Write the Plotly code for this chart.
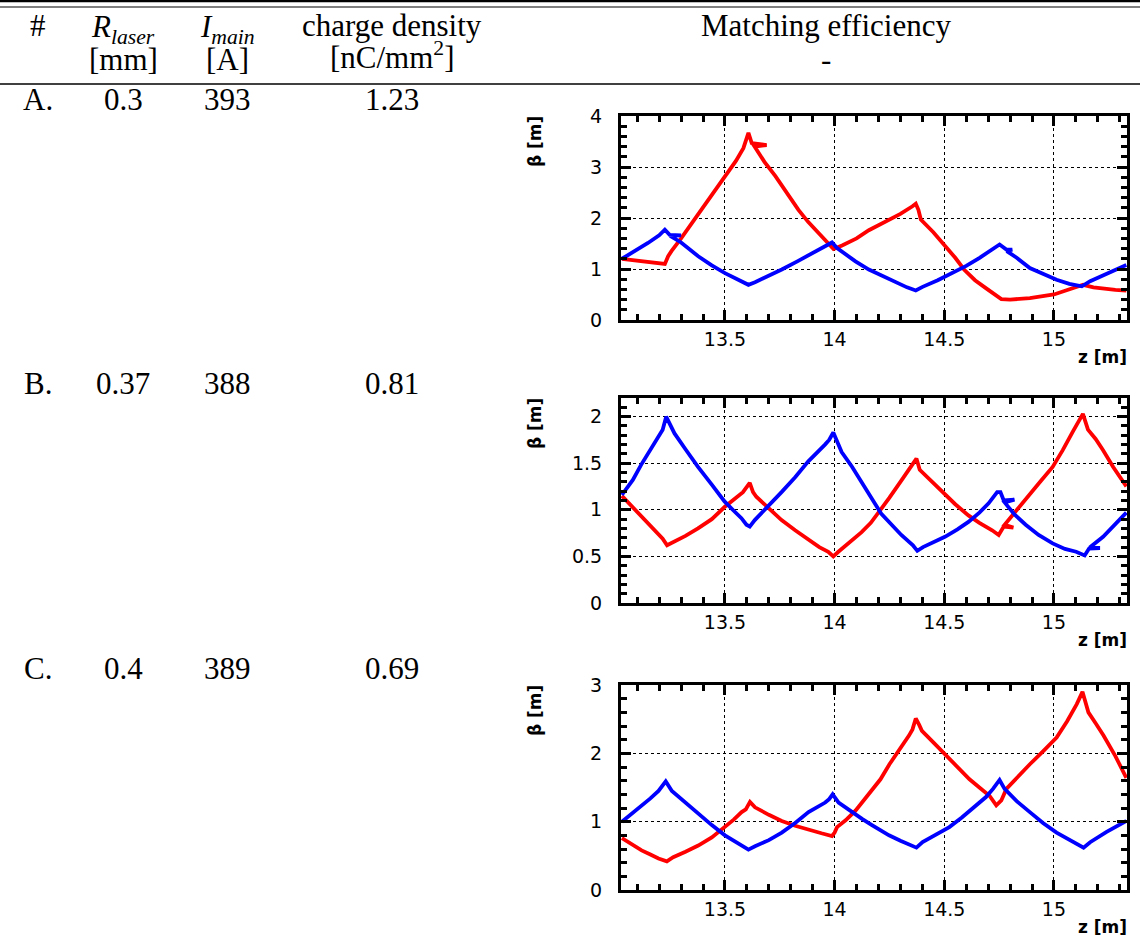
import plotly.graph_objects as go

W, H = 1140, 936

# ---------------- table contents ----------------
header_line1 = ["#", "<i>R<sub>laser</sub></i>", "<i>I<sub>main</sub></i>", "charge density", "Matching efficiency"]
header_line2 = ["", "[mm]", "[A]", "[nC/mm<sup>2</sup>]", "-"]
row_labels = ["A.", "B.", "C."]
r_laser = ["0.3", "0.37", "0.4"]
i_main = ["393", "388", "389"]
charge_density = ["1.23", "0.81", "0.69"]

# ---------------- beta functions, run A ----------------
z_a_red = [13.03, 13.10, 13.17, 13.226, 13.241, 13.256, 13.30, 13.35, 13.40, 13.45, 13.50, 13.55,
           13.584, 13.607, 13.622, 13.69, 13.635, 13.68, 13.73, 13.78, 13.835, 13.88, 13.93, 13.973,
           13.995, 14.034, 14.10, 14.156, 14.20, 14.25, 14.30, 14.355, 14.37, 14.382, 14.393, 14.45,
           14.50, 14.55, 14.59, 14.64, 14.691, 14.73, 14.76, 14.80, 14.89, 15.00, 15.09, 15.133,
           15.18, 15.225, 15.28, 15.33]
beta_a_red = [1.20, 1.16, 1.13, 1.10, 1.25, 1.35, 1.60, 1.90, 2.20, 2.50, 2.80, 3.12,
              3.37, 3.67, 3.47, 3.43, 3.40, 3.10, 2.82, 2.50, 2.16, 1.92, 1.68, 1.48,
              1.39, 1.46, 1.60, 1.76, 1.86, 1.97, 2.08, 2.23, 2.28, 2.16, 1.97, 1.72,
              1.48, 1.22, 0.99, 0.78, 0.62, 0.50, 0.41, 0.40, 0.43, 0.50, 0.63, 0.69,
              0.64, 0.61, 0.59, 0.575]
z_a_blue = [13.03, 13.09, 13.149, 13.20, 13.226, 13.248, 13.30, 13.25, 13.30, 13.378, 13.44, 13.50,
            13.56, 13.607, 13.637, 13.70, 13.759, 13.83, 13.912, 13.96, 13.988, 14.011, 14.05, 14.095,
            14.156, 14.22, 14.278, 14.33, 14.37, 14.401, 14.47, 14.538, 14.60, 14.661, 14.70, 14.737,
            14.752, 14.783, 14.81, 14.785, 14.83, 14.89, 14.95, 15.012, 15.07, 15.127, 15.165, 15.24,
            15.33]
beta_a_blue = [1.20, 1.35, 1.51, 1.66, 1.77, 1.67, 1.66, 1.65, 1.52, 1.25, 1.07, 0.92,
               0.79, 0.69, 0.74, 0.86, 0.99, 1.15, 1.35, 1.47, 1.52, 1.41, 1.29, 1.15,
               0.99, 0.86, 0.73, 0.64, 0.58, 0.65, 0.78, 0.92, 1.06, 1.22, 1.33, 1.43,
               1.48, 1.38, 1.38, 1.35, 1.22, 1.02, 0.90, 0.79, 0.71, 0.66, 0.76, 0.91,
               1.08]

# ---------------- beta functions, run B ----------------
z_b_red = [13.03, 13.08, 13.117, 13.16, 13.194, 13.216, 13.236, 13.262, 13.32, 13.377, 13.44, 13.498,
           13.54, 13.582, 13.613, 13.628, 13.643, 13.70, 13.758, 13.82, 13.88, 13.93, 13.971, 13.994,
           14.017, 14.07, 14.123, 14.165, 14.207, 14.25, 14.30, 14.334, 14.357, 14.373, 14.388, 14.44,
           14.488, 14.55, 14.61, 14.66, 14.718, 14.748, 14.771, 14.815, 14.775, 14.83, 14.887, 14.94,
           14.994, 15.04, 15.086, 15.109, 15.132, 15.155, 15.19, 15.224, 15.27, 15.33]
beta_b_red = [1.15, 1.03, 0.93, 0.83, 0.75, 0.69, 0.62, 0.65, 0.72, 0.80, 0.90, 1.03,
              1.11, 1.19, 1.29, 1.19, 1.14, 1.01, 0.89, 0.78, 0.68, 0.60, 0.55, 0.50,
              0.55, 0.65, 0.76, 0.86, 0.99, 1.13, 1.30, 1.42, 1.50, 1.55, 1.43, 1.31,
              1.19, 1.06, 0.94, 0.86, 0.78, 0.73, 0.82, 0.81, 0.84, 1.00, 1.16, 1.31,
              1.46, 1.64, 1.84, 1.93, 2.03, 1.86, 1.76, 1.64, 1.46, 1.25]
z_b_blue = [13.03, 13.08, 13.117, 13.16, 13.201, 13.216, 13.232, 13.255, 13.27, 13.32, 13.377, 13.44,
            13.498, 13.54, 13.575, 13.598, 13.613, 13.636, 13.70, 13.758, 13.82, 13.88, 13.956, 13.975,
            13.994, 14.017, 14.032, 14.08, 14.123, 14.165, 14.212, 14.26, 14.304, 14.357, 14.377, 14.403,
            14.45, 14.503, 14.56, 14.61, 14.66, 14.702, 14.741, 14.756, 14.771, 14.82, 14.775, 14.82,
            14.871, 14.93, 14.994, 15.05, 15.101, 15.140, 15.160, 15.210, 15.163, 15.224, 15.27, 15.33]
beta_b_blue = [1.16, 1.32, 1.48, 1.64, 1.80, 1.86, 2.00, 1.88, 1.82, 1.65, 1.46, 1.27,
               1.09, 0.99, 0.91, 0.84, 0.82, 0.89, 1.04, 1.19, 1.35, 1.52, 1.70, 1.75,
               1.83, 1.71, 1.62, 1.46, 1.30, 1.14, 0.96, 0.84, 0.73, 0.62, 0.56, 0.60,
               0.65, 0.71, 0.79, 0.87, 0.97, 1.07, 1.19, 1.19, 1.10, 1.11, 1.08, 0.95,
               0.84, 0.73, 0.64, 0.58, 0.55, 0.51, 0.585, 0.59, 0.595, 0.71, 0.82, 0.97]

# ---------------- beta functions, run C ----------------
z_c_red = [13.03, 13.08, 13.12, 13.16, 13.197, 13.235, 13.264, 13.32, 13.378, 13.44, 13.50, 13.54,
           13.576, 13.595, 13.614, 13.637, 13.70, 13.759, 13.82, 13.881, 13.94, 13.988, 14.00, 14.011,
           14.05, 14.095, 14.15, 14.209, 14.25, 14.30, 14.339, 14.355, 14.37, 14.385, 14.398, 14.45,
           14.508, 14.56, 14.615, 14.66, 14.706, 14.737, 14.760, 14.783, 14.84, 14.89, 14.95, 15.012,
           15.06, 15.104, 15.13, 15.148, 15.157, 15.19, 15.226, 15.28, 15.33]
beta_c_red = [0.76, 0.66, 0.58, 0.52, 0.46, 0.42, 0.48, 0.56, 0.65, 0.77, 0.92, 1.03,
              1.14, 1.18, 1.29, 1.21, 1.10, 1.01, 0.94, 0.88, 0.83, 0.79, 0.84, 0.92,
              1.02, 1.16, 1.38, 1.62, 1.84, 2.07, 2.26, 2.35, 2.51, 2.42, 2.33, 2.16,
              1.97, 1.79, 1.62, 1.50, 1.38, 1.24, 1.31, 1.48, 1.68, 1.84, 2.03, 2.23,
              2.47, 2.72, 2.90, 2.70, 2.60, 2.44, 2.26, 1.96, 1.64]
z_c_blue = [13.03, 13.08, 13.12, 13.16, 13.197, 13.23, 13.258, 13.32, 13.378, 13.44, 13.50, 13.576,
            13.607, 13.637, 13.70, 13.759, 13.82, 13.881, 13.957, 13.975, 13.991, 14.018, 14.07, 14.125,
            14.17, 14.209, 14.248, 14.30, 14.355, 14.373, 14.401, 14.46, 14.523, 14.58, 14.645, 14.69,
            14.722, 14.752, 14.775, 14.83, 14.89, 14.95, 15.012, 15.06, 15.104, 15.135, 15.165, 15.24,
            15.33]
beta_c_blue = [1.00, 1.13, 1.23, 1.34, 1.45, 1.59, 1.45, 1.28, 1.11, 0.95, 0.80, 0.65,
               0.59, 0.64, 0.73, 0.84, 0.98, 1.14, 1.28, 1.33, 1.40, 1.28, 1.16, 1.04,
               0.95, 0.87, 0.80, 0.72, 0.65, 0.62, 0.70, 0.80, 0.92, 1.06, 1.23, 1.36,
               1.48, 1.61, 1.48, 1.30, 1.14, 0.98, 0.84, 0.75, 0.67, 0.62, 0.70, 0.85,
               1.01]

# panel settings: (red z, red beta, blue z, blue beta, y range, y tick step, y minor step, frame top px, frame bottom px)
panels = [
    (z_a_red, beta_a_red, z_a_blue, beta_a_blue, [0, 4], 1, 0.2, 116, 320),
    (z_b_red, beta_b_red, z_b_blue, beta_b_blue, [0, 2.2], 0.5, 0.1, 398, 603),
    (z_c_red, beta_c_red, z_c_blue, beta_c_blue, [0, 3], 1, 0.2, 685, 890),
]
z_range = [13.026, 15.333]
x_left, x_right = 621, 1127


def py(p):
    """pixel row -> paper y"""
    return 1 - p / H


def px(p):
    return p / W


fig = go.Figure()

serif = "Liberation Serif"
sans = "DejaVu Sans"
TS = 31  # table font size

for i, (zr, br, zb, bb, yr, ydt, ymin, top, bot) in enumerate(panels):
    n = i + 1
    xa = "x" if n == 1 else f"x{n}"
    ya = "y" if n == 1 else f"y{n}"
    for zz, bb_, col in ((zr, br, "#ff0000"), (zb, bb, "#0000ff")):
        fig.add_trace(go.Scatter(x=zz, y=bb_, mode="lines", xaxis=xa, yaxis=ya,
                                 line=dict(color=col, width=3.8), showlegend=False,
                                 hoverinfo="skip"))
    common = dict(showline=True, linewidth=3, linecolor="black", mirror="allticks",
                  ticks="inside", tickwidth=2.5, tickcolor="black", ticklen=10,
                  showgrid=True, gridcolor="black", griddash="dot", gridwidth=1,
                  zeroline=False, automargin=False,
                  tickfont=dict(family=sans, size=19, color="black"))
    fig.update_layout(**{
        ("xaxis" if n == 1 else f"xaxis{n}"): dict(
            common, domain=[px(x_left), px(x_right)], range=z_range, anchor=ya,
            tick0=13.5, dtick=0.5, ticklabelstandoff=0,
            minor=dict(dtick=0.1, ticks="inside", ticklen=6, tickwidth=2.5, tickcolor="black", showgrid=False)),
        ("yaxis" if n == 1 else f"yaxis{n}"): dict(
            common, domain=[py(bot), py(top)], range=yr, anchor=xa,
            tick0=0, dtick=ydt, ticklabelstandoff=12,
            minor=dict(dtick=ymin, ticks="inside", ticklen=6, tickwidth=2.5, tickcolor="black", showgrid=False)),
    })
    # axis titles
    fig.add_annotation(xref="paper", yref="paper", x=px(535), y=py(top + 26), text="<b>β [m]</b>",
                       textangle=-90, showarrow=False, font=dict(family=sans, size=17, color="black"),
                       xanchor="center", yanchor="middle")
    fig.add_annotation(xref="paper", yref="paper", x=px(1129), y=py(bot + 37), text="<b>z [m]</b>",
                       showarrow=False, font=dict(family=sans, size=17, color="black"),
                       xanchor="right", yanchor="middle")

# table header (centres shifted where sub/superscripts enlarge the text box)
col_x = [38, 123, 227, 392, 826]
line1_y = [25, 29, 29, 25, 25]
line2_y = [60, 60, 60, 55, 60]
for cx, t1, t2, y1, y2 in zip(col_x, header_line1, header_line2, line1_y, line2_y):
    fig.add_annotation(xref="paper", yref="paper", x=px(cx), y=py(y1), text=t1, showarrow=False,
                       font=dict(family=serif, size=TS, color="black"), xanchor="center", yanchor="middle")
    if t2:
        fig.add_annotation(xref="paper", yref="paper", x=px(cx), y=py(y2), text=t2, showarrow=False,
                           font=dict(family=serif, size=TS, color="black"), xanchor="center", yanchor="middle")

row_y = [100, 383, 668]
for ry, lab, rl, im, cd in zip(row_y, row_labels, r_laser, i_main, charge_density):
    for cx, t in zip(col_x[:4], (lab, rl, im, cd)):
        fig.add_annotation(xref="paper", yref="paper", x=px(cx), y=py(ry), text=t, showarrow=False,
                           font=dict(family=serif, size=TS, color="black"), xanchor="center", yanchor="middle")

# table rules
for yy, lw in ((1.2, 2.2), (7, 1.2), (84, 1.6)):
    fig.add_shape(type="line", xref="paper", yref="paper", x0=0, x1=1, y0=py(yy), y1=py(yy),
                  line=dict(color="black", width=lw))

fig.update_layout(width=W, height=H, autosize=False,
                  margin=dict(l=0, r=0, t=0, b=0, pad=0, autoexpand=False),
                  paper_bgcolor="white", plot_bgcolor="white", showlegend=False)

fig.write_html("out.html")
